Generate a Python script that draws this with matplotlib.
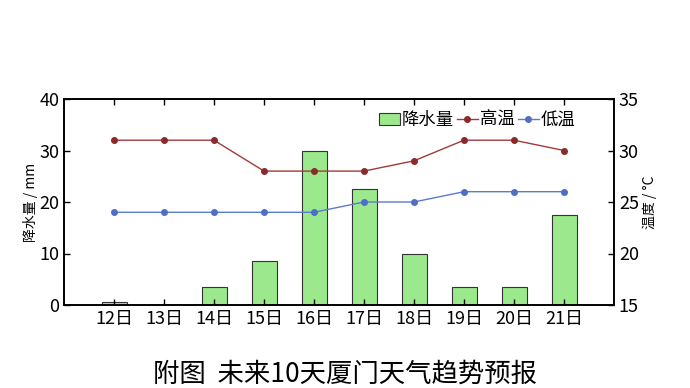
import matplotlib.pyplot as plt
import numpy as np

plt.rcParams['font.family'] = ['Noto Sans CJK SC', 'DejaVu Sans']

days = ['12日', '13日', '14日', '15日', '16日', '17日', '18日', '19日', '20日', '21日']
rain = [0.5, 0, 3.5, 8.5, 30, 22.5, 10, 3.5, 3.5, 17.5]
t_high = [31, 31, 31, 28, 28, 28, 29, 31, 31, 30]
t_low = [24, 24, 24, 24, 24, 25, 25, 26, 26, 26]

x = np.arange(len(days))

fig = plt.figure(figsize=(6.9, 3.88), dpi=100)
ax = fig.add_axes([64/690, 1-305/388, 550/690, 206/388])
ax2 = ax.twinx()

b = ax.bar(x, rain, width=0.5, color='#9be98c', edgecolor='#333333', linewidth=0.8, label='降水量')
l1, = ax2.plot(x, t_high, color='#a33a3a', lw=1, marker='o', ms=4, mfc='#8b2a2a', mec='#8b2a2a', label='高温')
l2, = ax2.plot(x, t_low, color='#5a7ccc', lw=1, marker='o', ms=4, mfc='#4f6fc4', mec='#4f6fc4', label='低温')

ax.set_xlim(-1, 10)
ax.set_ylim(0, 40)
ax.set_yticks([0, 10, 20, 30, 40])
ax2.set_ylim(15, 35)
ax2.set_yticks([15, 20, 25, 30, 35])
ax.set_xticks(x)
ax.set_xticklabels(days)

ax.tick_params(axis='both', direction='in', labelsize=13, length=4, width=1, top=True)
ax2.tick_params(axis='y', direction='in', labelsize=13, length=4, width=1)
ax.set_ylabel('降水量 / mm', fontsize=10, labelpad=1)
ax2.set_ylabel('温度 / °C', fontsize=10, labelpad=3)
for a in (ax, ax2):
    for s in a.spines.values():
        s.set_linewidth(1.2)

ax2.legend([b, l1, l2], ['降水量', '高温', '低温'], loc='upper right', frameon=False,
           fontsize=12.5, ncol=3, handlelength=1.2, handletextpad=0.1, columnspacing=0.2,
           borderaxespad=0.1, bbox_to_anchor=(0.945, 0.985))

fig.text(0.5, 1-374/388, '附图  未来10天厦门天气趋势预报', ha='center', va='center', fontsize=19)

fig.savefig('out.png', dpi=100)
